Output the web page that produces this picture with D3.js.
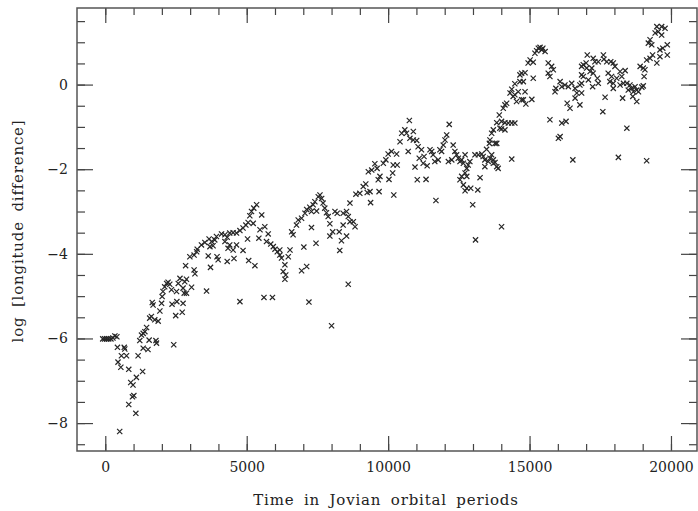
<!DOCTYPE html>
<html>
<head>
<meta charset="utf-8">
<script src="https://cdn.jsdelivr.net/npm/d3@7"></script>
<style>
  body { margin: 0; background: #fff; }
  .axis text { font-family: "DejaVu Serif", serif; font-size: 14px; fill: #222; }
  .axis line { stroke: #444; stroke-width: 1.2; }
  .title { font-family: "DejaVu Serif", serif; font-size: 15px; fill: #222; letter-spacing: 0.8px; word-spacing: 4px; }
</style>
</head>
<body>
<div class="chart_container"></div>
<script>
// data: [time in Jovian periods, log longitude difference]
const earlyPoints = [
  [-90,-6.01],[-20,-6.01],[50,-6.01],[120,-6.01],[200,-6.01],[270,-5.99],[340,-5.94],[410,-5.96],
  [430,-6.21],[670,-6.21],[690,-6.25],[570,-6.41],[750,-6.41],[1160,-6.41],[450,-6.56],[550,-6.68],
  [830,-6.73],[1320,-6.78],[1100,-6.92],[900,-7.04],[980,-7.10],[1010,-7.35],[960,-7.38],[830,-7.56],
  [1080,-7.77],[510,-8.20],
  [1220,-6.05],[1280,-5.92],[1400,-5.84],[1460,-5.74],[1550,-6.04],[1340,-6.23],[1510,-6.26],[1790,-6.05],
  [1810,-6.11],[1570,-5.52],[1750,-5.56],[1870,-5.59],[1690,-5.21],[1930,-5.35],[1660,-5.15],[1990,-5.17],
  [2010,-5.01],[2040,-4.89],[2100,-4.78],[2170,-4.70],[2220,-4.67],[2280,-4.72],[2340,-4.85],[2520,-4.89],
  [2580,-4.70],[2640,-4.58],[2810,-4.66],[2870,-4.60],[3050,-4.79],[2870,-4.93],[2790,-4.93],[2360,-5.19],
  [2530,-5.13],[2750,-5.17],[2490,-5.46],[2720,-5.38],[2420,-6.15],[3140,-4.38],[3170,-4.47],[2840,-4.28],
  [2990,-4.07],[3140,-4.03],[3230,-3.95],[1340,-5.88],[1630,-5.48],[2750,-4.81]
]

const midPoints = [
  [3720,-4.32],[3580,-4.88],[3250,-3.89],[3400,-3.79],[3520,-3.73],[3670,-3.65],[3760,-3.71],[3870,-3.67],
  [3950,-4.07],[3990,-4.14],[3640,-4.05],[3700,-3.83],[3810,-3.81],
  [3930,-3.59],[4110,-3.53],[4230,-3.55],[4310,-3.61],[4400,-3.51],[4520,-3.50],[4640,-3.51],[4760,-3.45],
  [4870,-3.39],[4970,-3.32],[5050,-3.26],[5110,-3.10],[5170,-3.00],[5250,-2.92],[5350,-2.84],[5530,-3.08],
  [5230,-3.28],
  [4230,-3.71],[4400,-3.79],[4340,-3.87],[4640,-3.79],[4520,-3.91],[4870,-3.92],[5030,-3.65],[4550,-4.11],
  [4310,-4.18],[5070,-4.16],[5290,-4.28],
  [5470,-3.43],[5430,-3.63],[5640,-3.36],[5760,-3.53],[5700,-3.71],[5850,-3.77],[5940,-3.83],[6000,-3.89],
  [6080,-3.95],[6170,-4.03],[6230,-4.10],[6350,-4.26],[6290,-4.42],[6380,-4.50],[6350,-4.60],
  [4760,-5.13],[5610,-5.03],[5910,-5.03],
  [6170,-3.91],[6530,-3.91],[6470,-4.07],[6640,-3.55],[6590,-3.48],[6760,-3.32],[6820,-3.20],[6940,-3.16],
  [7060,-3.04],[7120,-2.95],[7230,-2.90],[7350,-2.84],[7410,-2.77],[7530,-2.65],[7590,-2.61],[7650,-2.69],
  [7700,-2.80],[7760,-2.92],[7820,-3.03],[7880,-3.12],[7290,-3.00],[7470,-2.99],
  [7020,-3.84],[7290,-3.38],[7450,-3.75],[6940,-4.40],[7120,-4.30],[8290,-3.92],[8590,-4.72],[7200,-5.14],
  [8000,-5.70],
  [7940,-3.29],[8120,-3.00],[8200,-3.04],[8410,-3.04],[8530,-3.00],[8590,-3.12],[8650,-3.24],[8770,-3.24],
  [8830,-3.36],[8270,-3.48],[8410,-3.32],[8530,-3.58],[8350,-3.69],[8040,-3.48],[7940,-3.58]
]

const latePoints = [
  [8650,-2.80],[8860,-2.59],[9000,-2.57],[9120,-2.41],[9210,-2.35],[9260,-2.55],[9360,-2.53],[9380,-2.79],
  [9300,-2.06],[9420,-2.02],[9530,-1.87],[9610,-1.98],[9650,-2.25],[9710,-2.17],[9830,-1.86],[9920,-1.78],
  [10000,-1.64],[10120,-1.58],[10180,-1.90],[10300,-1.64],[10320,-1.90],[9680,-2.53],[10200,-2.61],
  [10030,-2.24],[10160,-2.09],[10710,-1.58],[10950,-1.95],[11100,-1.74],[11240,-1.86],[11380,-1.92],
  [11030,-2.25],[11340,-2.24],[11270,-1.70],
  [10750,-0.85],[10590,-1.07],[10480,-1.15],[10420,-1.35],[10650,-1.15],[10890,-1.11],[10770,-1.27],
  [10890,-1.31],[11010,-1.32],[11060,-1.47],[11180,-1.54],[11690,-2.74],
  [11480,-1.54],[11540,-1.58],[11590,-1.66],[11650,-1.82],[11770,-1.78],[11830,-1.54],[11950,-1.43],
  [11890,-1.58],[12010,-1.31],[12070,-1.19],[12160,-0.94],[12130,-1.82],[12250,-1.78],[12300,-1.43],
  [12360,-1.58],[12420,-1.66],[12480,-1.74],[12540,-1.82],[12600,-1.78],[12660,-1.86],[12780,-1.98],
  [12830,-1.90],[12890,-1.82],[12720,-2.09],[12600,-2.17],[12540,-2.25],[12780,-2.17],[12660,-2.37],
  [12780,-2.45],[12920,-2.45],[12720,-2.51],[13170,-2.49],[12990,-2.84],[13250,-2.20],[13090,-3.67],
  [14010,-3.36],[14370,-1.76],[12720,-1.66],
  [13070,-1.66],[13190,-1.66],[13310,-1.64],[13360,-1.70],[13480,-1.53],[13420,-1.78],[13540,-1.82],
  [13600,-1.74],[13660,-1.66],[13720,-1.78],[13780,-1.84],[13890,-1.98],[13580,-1.39],[13660,-1.15],
  [13600,-1.31],[13780,-1.39],[13720,-1.07],[13840,-0.90],[13930,-0.72],[14010,-0.87],[14010,-1.05],
  [14130,-1.07],[14130,-0.90],[14250,-0.91],[14370,-0.91],[14480,-0.91],[14070,-0.56],[14190,-0.44],
  [14310,-0.20],[14370,-0.11],[14480,-0.24],[14540,-0.40],[14600,-0.17],[14480,0.02],[14660,0.07],
  [14720,-0.36],[14870,-0.46],
  [13950,-1.03],[13840,-1.39],[13720,-1.86],[13840,-1.94],[13420,-1.94],[14420,-0.28],[14840,-0.17],
  [14780,-0.36],[15080,-0.35],[14130,-0.48]
]

const lastPoints = [
  [15310,0.86],[15430,0.82],[15550,0.78],[15250,0.80],[15190,0.74],[15370,0.88],[15470,0.86],[15020,0.58],
  [15130,0.53],[14950,0.51],[15660,0.51],[15780,0.43],[15840,0.35],[15720,0.19],[15660,0.27],[14720,0.27],
  [14840,0.28],[14660,0.23],[15130,0.15],[14780,0.07],[16530,-1.78],
  [15720,-0.83],[16140,-0.91],[16290,-0.87],[16080,-1.23],[16020,-1.27],[16080,0.07],[15930,-0.09],
  [15900,-0.17],[16140,-0.05],[16250,-0.01],[16370,-0.05],[16490,0.03],[16610,-0.09],[16670,-0.20],
  [16610,-0.32],[16330,-0.44],[16430,-0.56],[16780,-0.01],[16900,0.19],[16840,0.43],[17000,0.51],[17040,0.70],
  [17250,0.62],[17310,0.54],[17430,0.54],[17610,0.70],[17630,0.60],[17730,0.54],[17870,0.54],[17960,0.51],
  [18020,0.43],[16900,0.47],[17020,0.39],[17140,0.31],[17200,0.39],[17250,0.27],[16840,0.23],[16840,0.03],
  [17080,0.11],[17400,0.15],[17430,0.03],[17230,-0.05],[16840,-0.20],[16780,-0.48],
  [17780,0.27],[17900,0.19],[17840,0.07],[17960,0.03],[17960,-0.09],[18080,0.15],[18200,0.31],[18260,0.19],
  [18380,0.33],[18200,-0.01],[18320,0.03],[18440,0.03],[18550,-0.01],[18610,-0.09],[18730,-0.05],
  [18790,-0.13],[18850,-0.17],[18970,-0.06],[19020,-0.03],[18490,-0.13],[18670,-0.17],[18650,-0.28],
  [18790,-0.40],[18290,-0.32],[17670,-0.30],[17590,-0.64],[18440,-1.03],[18140,-1.72],[19140,-1.80],
  [18910,0.43],[19020,0.39],[19080,0.35],[19050,0.19],[19140,0.58],[19260,0.62],[19350,0.70],[19500,0.51],
  [19610,0.66],[19610,0.82],[19710,0.86],[19870,0.94],[19870,0.70],[19200,0.98],[19260,1.06],[19320,0.94],
  [19440,1.22],[19550,1.25],[19670,1.17],[19500,1.37],[19670,1.37],[19790,1.33]
]

const xMajorTicks = [0, 5000, 10000, 15000, 20000]
const xMinorTicks = d3.range(0, 20001, 1000)
const yMajorTicks = [0, -2, -4, -6, -8]
const yMinorTicks = d3.range(-8.5, 1.51, 0.5)

const xTitle = 'Time in Jovian orbital periods'
const yTitle = 'log [longitude difference]'

function draw() {
  const svg_width = 698
  const svg_height = 511
  const margin = {top: 8, bottom: 60, right: 1, left: 77}
  const chart_width = svg_width - (margin.left + margin.right)
  const chart_height = svg_height - (margin.top + margin.bottom)

  const svg = d3.select('.chart_container').append('svg')
    .attr('width', svg_width).attr('height', svg_height)
  const g = svg.append('g').attr('transform', `translate(${margin.left},${margin.top})`)

  const xScale = d3.scaleLinear([-1000, 20920], [0, chart_width])
  const yScale = d3.scaleLinear([-8.66, 1.81], [chart_height, 0])

  const fmt = d => d < 0 ? '\u2212' + Math.abs(d) : String(d)

  // 四邊刻度 (朝內)
  const addAxis = (axis, tr) => {
    const a = g.append('g').attr('class', 'axis').attr('transform', tr).call(axis)
    a.select('.domain').remove()
    return a
  }
  addAxis(d3.axisBottom(xScale).tickValues(xMinorTicks).tickSize(-7).tickFormat(''), `translate(0,${chart_height})`)
  addAxis(d3.axisBottom(xScale).tickValues(xMajorTicks).tickSize(-15).tickPadding(11).tickFormat(fmt), `translate(0,${chart_height})`)
  addAxis(d3.axisTop(xScale).tickValues(xMinorTicks).tickSize(-7).tickFormat(''), 'translate(0,0)')
  addAxis(d3.axisTop(xScale).tickValues(xMajorTicks).tickSize(-15).tickFormat(''), 'translate(0,0)')
  addAxis(d3.axisLeft(yScale).tickValues(yMinorTicks).tickSize(-8).tickFormat(''), 'translate(0,0)')
  addAxis(d3.axisLeft(yScale).tickValues(yMajorTicks).tickSize(-16).tickPadding(9).tickFormat(fmt), 'translate(0,0)')
  addAxis(d3.axisRight(yScale).tickValues(yMinorTicks).tickSize(-8).tickFormat(''), `translate(${chart_width},0)`)
  addAxis(d3.axisRight(yScale).tickValues(yMajorTicks).tickSize(-16).tickFormat(''), `translate(${chart_width},0)`)

  // 外框
  g.append('rect')
    .attr('x', 0).attr('y', 0)
    .attr('width', chart_width).attr('height', chart_height)
    .attr('fill', 'none').attr('stroke', '#555').attr('stroke-width', 1.5)

  // 資料點 (x 形)
  const points = earlyPoints.concat(midPoints, latePoints, lastPoints)
  const s = 2.6
  const marks = g.append('g').attr('class', 'marks')
    .attr('stroke', '#262626').attr('stroke-width', 1.2).attr('fill', 'none')
  marks.selectAll('path').data(points).join('path')
    .attr('d', d => {
      const cx = xScale(d[0]), cy = yScale(d[1])
      return `M${cx - s},${cy - s}L${cx + s},${cy + s}M${cx - s},${cy + s}L${cx + s},${cy - s}`
    })

  // 軸標題
  svg.append('text').attr('class', 'title')
    .attr('x', 386).attr('y', 505)
    .attr('text-anchor', 'middle')
    .text(xTitle)
  svg.append('text').attr('class', 'title')
    .attr('transform', `translate(23,231) rotate(-90)`)
    .attr('text-anchor', 'middle')
    .text(yTitle)
}

draw()
</script>
</body>
</html>
